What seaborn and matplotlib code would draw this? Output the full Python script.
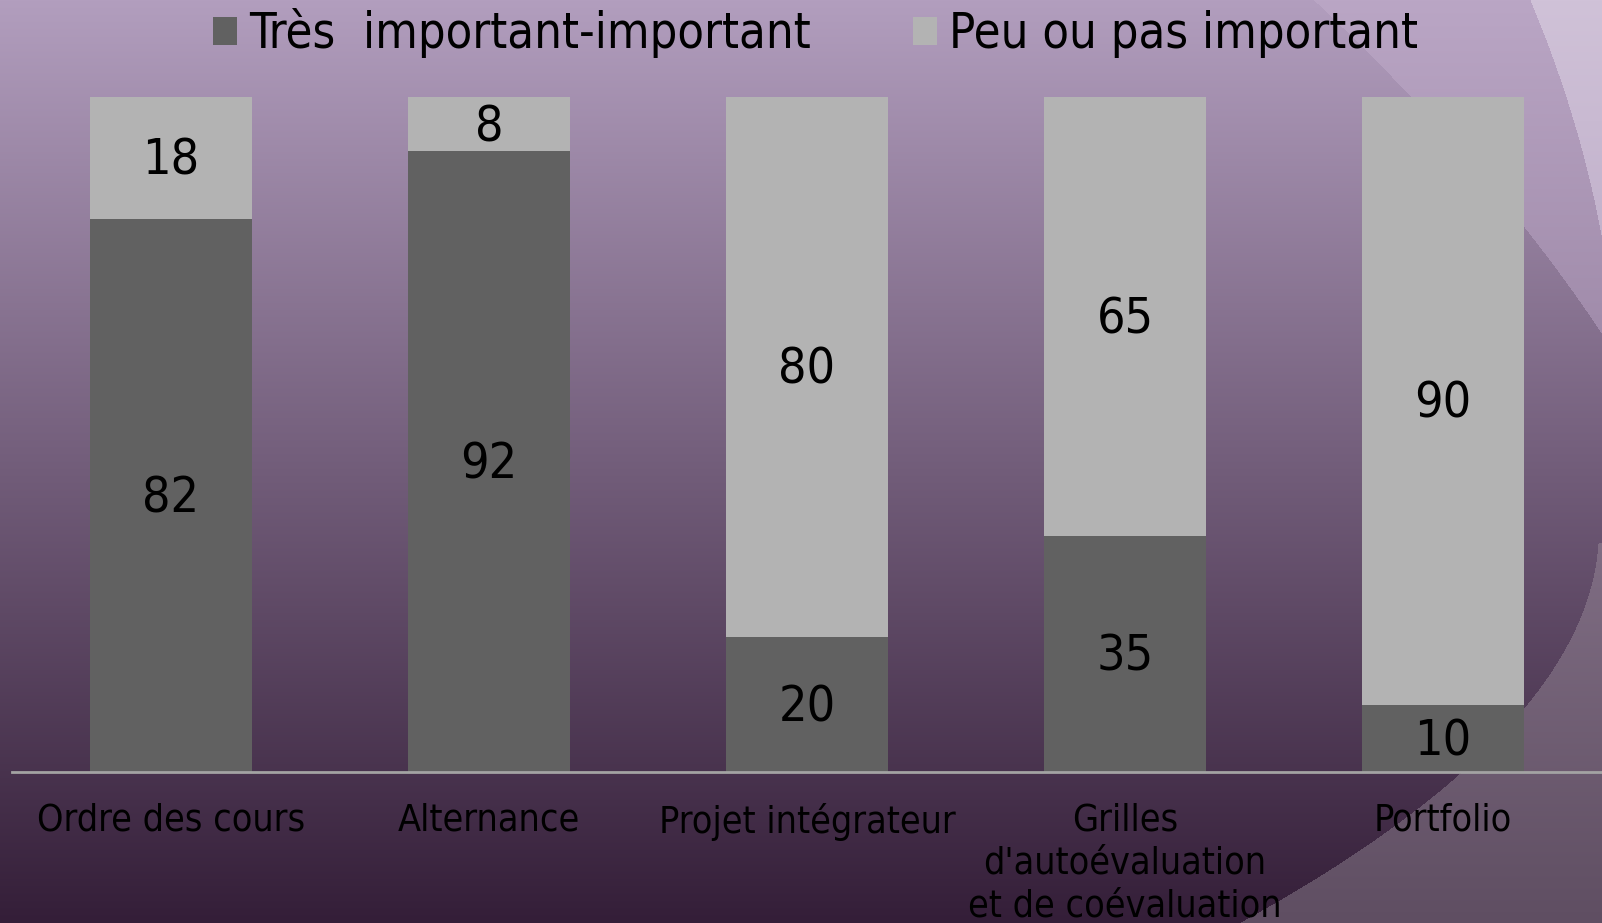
import numpy as np
import pandas as pd
import matplotlib
matplotlib.use("Agg")
import matplotlib.pyplot as plt
from matplotlib import font_manager as fm
from matplotlib.patches import Patch
from matplotlib.transforms import offset_copy
import seaborn as sns

# ---------------- data ----------------
categories = ["Ordre des cours", "Alternance", "Projet intégrateur",
              "Grilles\nd'autoévaluation\net de coévaluation", "Portfolio"]
tres_important = [82, 92, 20, 35, 10]
peu_important = [18, 8, 80, 65, 90]
series_names = ["Très  important-important", "Peu ou pas important"]

dark_color = "#616161"
light_color = "#b3b3b3"

# ---------------- fonts ----------------
names = {f.name for f in fm.fontManager.ttflist}
stretch = "normal"
if "Liberation Sans Narrow" in names:
    fam = "Liberation Sans Narrow"
elif any(f.name == "DejaVu Sans" and f.stretch == "condensed" for f in fm.fontManager.ttflist):
    fam = "DejaVu Sans"
    stretch = "condensed"
else:
    fam = "DejaVu Sans"
plt.rcParams["font.family"] = [fam, "DejaVu Sans"]
plt.rcParams["font.stretch"] = stretch

W, H = 1602, 923
fig = plt.figure(figsize=(W / 100, H / 100), dpi=100)

# ---------------- background ----------------
yy, xx = np.mgrid[0:H, 0:W].astype(float)
t = (yy / (H - 1))[..., None]
top = np.array([178, 158, 190]) / 255
bot = np.array([52, 30, 56]) / 255
img = top * (1 - t) + bot * t

# upper light region (outside the swoosh), smooth boundary
pu = np.polyfit([0, 97, 233, 333], [1313, 1413, 1527, 1602], 2)
xu = np.where(yy <= 333, np.polyval(pu, yy), 1e9)
maskA = xx > xu
ca_top = np.array([186, 166, 197]) / 255
ca_bot = np.array([160, 139, 170]) / 255
tA = np.clip(yy / 340, 0, 1)[..., None]
colA = ca_top * (1 - tA) + ca_bot * tA
img = np.where(maskA[..., None], colA, img)

# lightest corner
pb = np.polyfit([0, 100, 240], [1530, 1567, 1602], 2)
xb = np.where(yy <= 240, np.polyval(pb, yy), 1e9)
maskB = xx > xb
cb_top = np.array([208, 194, 216]) / 255
cb_bot = np.array([194, 178, 204]) / 255
tB = np.clip(yy / 240, 0, 1)[..., None]
colB = cb_top * (1 - tB) + cb_bot * tB
img = np.where(maskB[..., None], colB, img)

# lower flat region (outside the swoosh), smooth boundary
ly = [543, 633, 700, 773, 850, 900, 923]
lx = [1602, 1567, 1527, 1463, 1367, 1280, 1233]
pl = np.polyfit(ly, lx, 2)
xl = np.where(yy >= 543, np.polyval(pl, yy), 1e9)
maskC = xx > xl
cc_top = np.array([128, 110, 132]) / 255
cc_bot = np.array([95, 78, 98]) / 255
tC = np.clip((yy - 540) / 383, 0, 1)[..., None]
colC = cc_top * (1 - tC) + cc_bot * tC
img = np.where(maskC[..., None], colC, img)

bg = fig.add_axes([0, 0, 1, 1], zorder=0)
bg.imshow(img, aspect="auto", extent=[0, W, H, 0], interpolation="bilinear")
bg.set_axis_off()

# ---------------- chart ----------------
ax = fig.add_axes([12 / W, 1 - 772 / H, 1 - 12 / W, (772 - 97) / H], zorder=1)
ax.set_facecolor("none")

df = pd.DataFrame({"cat": categories,
                   "tres": tres_important,
                   "peu": peu_important})
df["total"] = df["tres"] + df["peu"]

sns.barplot(data=df, x="cat", y="total", color=light_color, saturation=1,
            width=0.51, linewidth=0, ax=ax, order=categories)
sns.barplot(data=df, x="cat", y="tres", color=dark_color, saturation=1,
            width=0.51, linewidth=0, ax=ax, order=categories)

label_fs = 36
tr = offset_copy(ax.transData, fig=fig, x=0, y=-3, units="dots")
for i, (d, p) in enumerate(zip(tres_important, peu_important)):
    ax.text(i, d / 2, f"{d}", ha="center", va="center", fontsize=label_fs,
            color="black", transform=tr)
    ax.text(i, d + p / 2, f"{p}", ha="center", va="center", fontsize=label_fs,
            color="black", transform=tr)

ax.set_xlim(-0.5, 4.5)
ax.set_ylim(0, 100)
ax.set_xlabel("")
ax.set_ylabel("")
ax.set_yticks([])
for s in ["top", "left", "right"]:
    ax.spines[s].set_visible(False)
ax.spines["bottom"].set_color("#a3a3a3")
ax.spines["bottom"].set_linewidth(2)
ax.tick_params(axis="x", length=0, pad=22, labelsize=27, labelcolor="black")
for lab in ax.get_xticklabels():
    lab.set_linespacing(1.25)
    lab.set_verticalalignment("top")

handles = [Patch(facecolor=dark_color, edgecolor="none", label=series_names[0]),
           Patch(facecolor=light_color, edgecolor="none", label=series_names[1])]
ax.legend(handles=handles, loc="center", bbox_to_anchor=(0.509, 0.964),
          bbox_transform=fig.transFigure, ncol=2, frameon=False, fontsize=35,
          handlelength=0.5, handleheight=0.5, handletextpad=0.25,
          columnspacing=2.1, labelcolor="black")

fig.savefig("out.png", dpi=100)
